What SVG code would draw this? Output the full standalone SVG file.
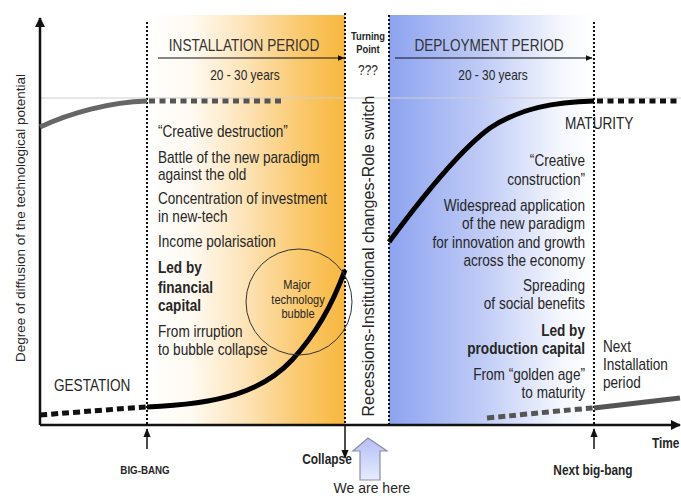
<svg xmlns="http://www.w3.org/2000/svg" width="681" height="496" viewBox="0 0 681 496">
<style>
text{font-family:"Liberation Sans",Arial,sans-serif;fill:#262626}
.b{font-size:16px}
.bold{font-weight:bold}
.title{font-size:16px;fill:#333;text-anchor:middle}
.yrs{font-size:14px;text-anchor:middle}
.r{text-anchor:end}
.m{text-anchor:middle}
.dot{stroke:#111;stroke-width:2;stroke-dasharray:2,2;fill:none}
.thick{fill:none;stroke-width:5}
</style>
<defs>
<linearGradient id="og" x1="147" y1="0" x2="345" y2="0" gradientUnits="userSpaceOnUse">
<stop offset="0" stop-color="#fff"/>
<stop offset="0.22" stop-color="#fffaf2"/>
<stop offset="0.5" stop-color="#fde3b6"/>
<stop offset="0.78" stop-color="#fac86c"/>
<stop offset="1" stop-color="#f7b73f"/>
</linearGradient>
<linearGradient id="bg" x1="389" y1="0" x2="594" y2="0" gradientUnits="userSpaceOnUse">
<stop offset="0" stop-color="#8da3ef"/>
<stop offset="0.45" stop-color="#bfcbf6"/>
<stop offset="0.85" stop-color="#f6f8fe"/>
<stop offset="1" stop-color="#fff"/>
</linearGradient>
<linearGradient id="ag" x1="0" y1="0" x2="0" y2="1">
<stop offset="0" stop-color="#b3bff5"/>
<stop offset="1" stop-color="#e8ecfd"/>
</linearGradient>
<marker id="ah" viewBox="0 0 10 10" refX="9" refY="5" markerWidth="4" markerHeight="4" orient="auto">
<path d="M0,0L10,5L0,10z" fill="#111"/>
</marker>
<marker id="ahs" viewBox="0 0 10 10" refX="9" refY="5" markerWidth="6" markerHeight="6" orient="auto">
<path d="M0,1L10,5L0,9z" fill="#111"/>
</marker>
</defs>
<rect width="681" height="496" fill="#fff"/>
<g id="installation-bg"><rect x="147" y="15" width="198" height="410" fill="url(#og)"/></g>
<g id="deployment-bg"><rect x="389" y="15" width="205" height="410" fill="url(#bg)"/></g>
<line x1="40" y1="98" x2="681" y2="98" stroke="#cfcfcf" stroke-width="1"/>
<g id="connectors">
<line class="dot" x1="147" y1="22" x2="147" y2="425"/>
<line class="dot" x1="345" y1="13" x2="345" y2="425"/>
<line class="dot" x1="389" y1="15" x2="389" y2="425"/>
<line class="dot" x1="594" y1="22" x2="594" y2="425"/>
<line x1="40" y1="425" x2="40" y2="18" stroke="#111" stroke-width="2.5" marker-end="url(#ah)"/>
<line x1="40" y1="425" x2="680" y2="425" stroke="#111" stroke-width="2.5" marker-end="url(#ah)"/>
<line x1="158" y1="58" x2="344" y2="58" stroke="#111" stroke-width="1.2" marker-end="url(#ahs)"/>
<line x1="395" y1="58" x2="592" y2="58" stroke="#111" stroke-width="1.2" marker-end="url(#ahs)"/>
<line x1="147" y1="449" x2="147" y2="429" stroke="#111" stroke-width="1.5" marker-end="url(#ahs)"/>
<line x1="594" y1="449" x2="594" y2="429" stroke="#111" stroke-width="1.5" marker-end="url(#ahs)"/>
<line x1="345" y1="426" x2="345" y2="458" stroke="#111" stroke-width="1.5" marker-end="url(#ahs)"/>
<path class="thick" stroke="#666" d="M40,127 C70,113 110,102 147,101"/>
<path class="thick" stroke="#555" stroke-dasharray="6,4.5" d="M149,101 L285,101"/>
<path class="thick" stroke="#111" stroke-dasharray="7,4" d="M40,415 C80,412 115,409 147,407"/>
<path class="thick" stroke="#000" d="M147,407 C220,404 262,392 292,360 C320,330 336,295 345,270"/>
<path class="thick" stroke="#000" d="M389,242 C420,200 460,150 490,128 C520,108 555,102 594,101"/>
<path class="thick" stroke="#111" stroke-dasharray="6,4.5" d="M597,101 L681,101"/>
<path class="thick" stroke="#555" stroke-dasharray="7,4" d="M487,418 C530,414 565,410 594,408"/>
<path class="thick" stroke="#555" d="M594,408 C630,404 655,401 680,398"/>
</g>
<g id="bubble">
<circle cx="299" cy="302" r="53" fill="none" stroke="#333" stroke-width="1"/>
<g transform="scale(0.85,1)">
<text class="m" x="349.4" y="289" font-size="13">Major</text>
<text class="m" x="350.6" y="304" font-size="13">technology</text>
<text class="m" x="350.6" y="318" font-size="13">bubble</text>
</g>
</g>
<g id="installation">
<g transform="scale(0.85,1)">
<text class="title" x="287.1" y="51">INSTALLATION PERIOD</text>
<text class="yrs" x="288.2" y="80">20 - 30 years</text>
<text class="b" x="185.9" y="137">“Creative destruction”</text>
<text class="b" x="185.9" y="163">Battle of the new paradigm</text>
<text class="b" x="185.9" y="180">against the old</text>
<text class="b" x="185.9" y="204">Concentration of investment</text>
<text class="b" x="185.9" y="222">in new-tech</text>
<text class="b" x="185.9" y="247">Income polarisation</text>
<text class="b bold" x="185.9" y="273">Led by</text>
<text class="b bold" x="185.9" y="293">financial</text>
<text class="b bold" x="185.9" y="311">capital</text>
<text class="b" x="185.9" y="337">From irruption</text>
<text class="b" x="185.9" y="355">to bubble collapse</text>
</g>
</g>
<g id="turning-point">
<g transform="scale(0.85,1)">
<text class="m bold" x="432.9" y="40" font-size="11">Turning</text>
<text class="m bold" x="432.9" y="53" font-size="11">Point</text>
<text class="m" x="432.9" y="75" font-size="14">???</text>
</g>
<text class="m" transform="translate(374,256) rotate(-90)" font-size="16">Recessions-Institutional changes-Role switch</text>
</g>
<g id="deployment">
<g transform="scale(0.85,1)">
<text class="title" x="575.3" y="51">DEPLOYMENT PERIOD</text>
<text class="yrs" x="580" y="80">20 - 30 years</text>
<text class="b" x="664.7" y="129">MATURITY</text>
<text class="b r" x="688.2" y="166">“Creative</text>
<text class="b r" x="688.2" y="185">construction”</text>
<text class="b r" x="688.2" y="211">Widespread application</text>
<text class="b r" x="688.2" y="229">of the new paradigm</text>
<text class="b r" x="688.2" y="248">for innovation and growth</text>
<text class="b r" x="688.2" y="266">across the economy</text>
<text class="b r" x="688.2" y="291">Spreading</text>
<text class="b r" x="688.2" y="309">of social benefits</text>
<text class="b r bold" x="688.2" y="336">Led by</text>
<text class="b r bold" x="688.2" y="354">production capital</text>
<text class="b r" x="688.2" y="380">From “golden age”</text>
<text class="b r" x="688.2" y="398">to maturity</text>
</g>
</g>
<g id="next-installation">
<g transform="scale(0.85,1)">
<text class="b" x="709.4" y="352">Next</text>
<text class="b" x="709.4" y="370">Installation</text>
<text class="b" x="709.4" y="388">period</text>
</g>
</g>
<g id="gestation"><text class="b" transform="scale(0.85,1)" x="63.5" y="391">GESTATION</text></g>
<g id="axis-labels">
<text class="m" transform="translate(25,218) rotate(-90)" font-size="13.5">Degree of diffusion of the technological potential</text>
<text class="bold" transform="scale(0.85,1)" x="767" y="448" font-size="14">Time</text>
</g>
<g id="events">
<g transform="scale(0.85,1)">
<text class="m bold" x="170.6" y="474" font-size="11.5">BIG-BANG</text>
<text class="m bold" x="384.7" y="464" font-size="14">Collapse</text>
<text class="m bold" x="697.6" y="475" font-size="14">Next big-bang</text>
</g>
</g>
<g id="we-are-here">
<path d="M368,438 L387,451 L380,451 L380,480 L360,480 L360,451 L353,451 Z" fill="url(#ag)" stroke="#8a8fa8" stroke-width="1.2"/>
<text class="m" x="372" y="493" font-size="14">We are here</text>
</g>
</svg>
